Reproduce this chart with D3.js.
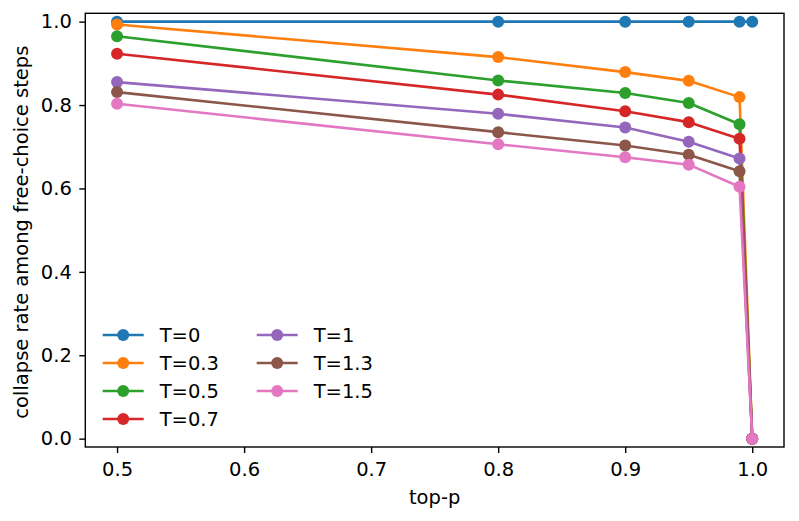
<!DOCTYPE html>
<html>
<head>
<meta charset="utf-8">
<script src="https://cdn.jsdelivr.net/npm/d3@7"></script>
<style>
  html, body { margin: 0; padding: 0; background: #fff; }
  svg text { font-family: "DejaVu Sans", sans-serif; fill: #000; }
</style>
</head>
<body>
<svg id="chart"></svg>
<script>
// ───────────────── DATA ─────────────────
const topP = [0.5, 0.8, 0.9, 0.95, 0.99, 1.0];

const temps = ["T=0", "T=0.3", "T=0.5", "T=0.7", "T=1", "T=1.3", "T=1.5"];

const rateT0  = [1.0,   1.0,   1.0,   1.0,   1.0,   1.0];
const rateT03 = [0.993, 0.915, 0.879, 0.858, 0.819, 0.0];
const rateT05 = [0.965, 0.859, 0.829, 0.805, 0.754, 0.0];
const rateT07 = [0.923, 0.825, 0.785, 0.759, 0.719, 0.0];
const rateT1  = [0.855, 0.779, 0.746, 0.712, 0.672, 0.0];
const rateT13 = [0.831, 0.735, 0.703, 0.681, 0.641, 0.0];
const rateT15 = [0.803, 0.706, 0.675, 0.657, 0.604, 0.0];

const series = [rateT0, rateT03, rateT05, rateT07, rateT1, rateT13, rateT15];

const xTicks = [0.5, 0.6, 0.7, 0.8, 0.9, 1.0];
const yTicks = [0.0, 0.2, 0.4, 0.6, 0.8, 1.0];

// ───────────────── COLOR ─────────────────
const COLORS = ["#1f77b4", "#ff7f0e", "#2ca02c", "#d62728", "#9467bd", "#8c564b", "#e377c2"];

// ───────────────── SIZE ─────────────────
const W = 799;
const H = 521;
const FONT = "19.5px";

const plot = { left: 85.3, right: 784, top: 13.3, bottom: 447 };

const svg = d3.select("#chart")
  .attr("width", W)
  .attr("height", H)
  .attr("viewBox", `0 0 ${W} ${H}`);

// ───────────────── SCALE ─────────────────
const x = d3.scaleLinear()
  .domain([0.475, 1.025])
  .range([plot.left, plot.right]);

const y = d3.scaleLinear()
  .domain([-0.02, 1.02])
  .range([plot.bottom, plot.top]);

// ───────────────── AXES ─────────────────
const xAxis = svg.append("g")
  .attr("transform", `translate(0,${plot.bottom})`)
  .call(d3.axisBottom(x).tickValues(xTicks).tickFormat(d3.format(".1f")).tickSize(6).tickPadding(9.5));

const yAxis = svg.append("g")
  .attr("transform", `translate(${plot.left},0)`)
  .call(d3.axisLeft(y).tickValues(yTicks).tickFormat(d3.format(".1f")).tickSize(6).tickPadding(7.5));

[xAxis, yAxis].forEach(a => {
  a.select(".domain").remove();
  a.selectAll("line").attr("stroke", "#000").attr("stroke-width", 1.4);
  a.selectAll("text").style("font-size", FONT).attr("fill", "#000");
});

// ───── FRAME ─────
svg.append("rect")
  .attr("x", plot.left)
  .attr("y", plot.top)
  .attr("width", plot.right - plot.left)
  .attr("height", plot.bottom - plot.top)
  .attr("fill", "none")
  .attr("stroke", "#000")
  .attr("stroke-width", 1.4);

// ───── AXIS LABELS ─────
svg.append("text")
  .attr("x", (plot.left + plot.right) / 2)
  .attr("y", 504)
  .attr("text-anchor", "middle")
  .style("font-size", FONT)
  .text("top-p");

svg.append("text")
  .attr("transform", `translate(28,${(plot.top + plot.bottom) / 2 + 2}) rotate(-90)`)
  .attr("text-anchor", "middle")
  .style("font-size", FONT)
  .text("collapse rate among free-choice steps");

// ───────────────── LINES ─────────────────
const line = d3.line()
  .x((d, i) => x(topP[i]))
  .y(d => y(d));

series.forEach((vals, k) => {
  const g = svg.append("g");

  g.append("path")
    .datum(vals)
    .attr("d", line)
    .attr("fill", "none")
    .attr("stroke", COLORS[k])
    .attr("stroke-width", 2.6)
    .attr("stroke-linejoin", "round");

  g.selectAll("circle")
    .data(vals)
    .join("circle")
    .attr("cx", (d, i) => x(topP[i]))
    .attr("cy", d => y(d))
    .attr("r", 6)
    .attr("fill", COLORS[k]);
});

// ───────────────── LEGEND ─────────────────
const legend = svg.append("g");
const colX = [102.7, 256.7];
const rowY = [335, 363, 391, 419];

temps.forEach((t, k) => {
  const col = k < 4 ? 0 : 1;
  const row = k < 4 ? k : k - 4;
  const lx = colX[col];
  const ly = rowY[row];

  legend.append("line")
    .attr("x1", lx).attr("x2", lx + 41)
    .attr("y1", ly).attr("y2", ly)
    .attr("stroke", COLORS[k])
    .attr("stroke-width", 2.6);

  legend.append("circle")
    .attr("cx", lx + 20.5)
    .attr("cy", ly)
    .attr("r", 6)
    .attr("fill", COLORS[k]);

  legend.append("text")
    .attr("x", lx + 57)
    .attr("y", ly + 7)
    .style("font-size", FONT)
    .text(t);
});
</script>
</body>
</html>
